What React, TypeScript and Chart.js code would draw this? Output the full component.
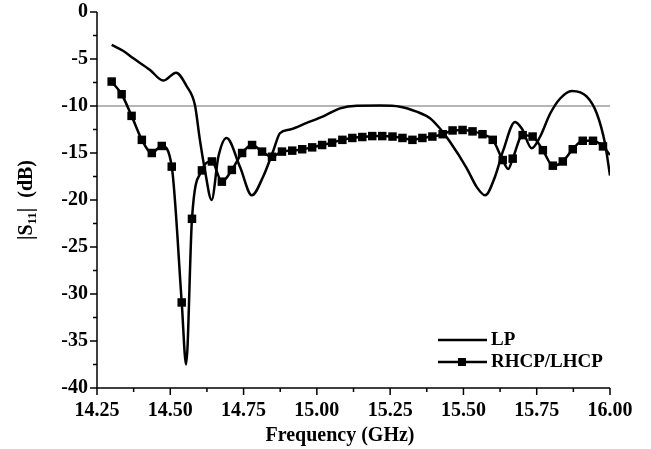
import React, { useEffect, useRef } from "react";
import { Chart, registerables } from "chart.js";
Chart.register(...registerables);

// LP curve (frequency in GHz, |S11| in dB)
const lpFreq = [
  14.3, 14.34, 14.374, 14.431, 14.476, 14.52, 14.556, 14.584, 14.601, 14.618, 14.641,
  14.664, 14.692, 14.738, 14.778, 14.817, 14.852, 14.874, 14.909, 14.965, 15.022,
  15.079, 15.136, 15.216, 15.284, 15.34, 15.386, 15.42, 15.454, 15.511, 15.545,
  15.574, 15.608, 15.636, 15.676, 15.699, 15.733, 15.761, 15.796, 15.83, 15.87,
  15.921, 15.955, 15.983, 16.0,
];
const lpS11 = [
  -3.5, -4.15, -4.93, -6.17, -7.3, -6.45, -7.9, -9.9, -13.6, -16.8, -20.0,
  -15.4, -13.4, -16.5, -19.5, -17.5, -14.7, -12.9, -12.5, -11.8, -11.1,
  -10.25, -9.97, -9.95, -10.07, -10.6, -11.3, -12.4, -13.8, -16.6, -18.6,
  -19.5, -17.5, -14.7, -11.7, -12.4, -14.5, -13.3, -10.8, -9.2, -8.4,
  -9.0, -10.8, -14.0, -17.4,
];

// RHCP/LHCP curve: points carrying square markers
const rhcpFreq = [
  14.3, 14.334, 14.368, 14.403, 14.437, 14.471, 14.505, 14.539, 14.574, 14.608,
  14.642, 14.676, 14.71, 14.745, 14.779, 14.813, 14.847, 14.881, 14.916, 14.95,
  14.984, 15.018, 15.052, 15.087, 15.121, 15.155, 15.189, 15.223, 15.258, 15.292,
  15.326, 15.36, 15.394, 15.429, 15.463, 15.497, 15.531, 15.565, 15.6, 15.634,
  15.668, 15.702, 15.736, 15.771, 15.805, 15.839, 15.873, 15.907, 15.942, 15.976,
];
const rhcpS11 = [
  -7.4, -8.75, -11.05, -13.6, -15.0, -14.25, -16.45, -30.9, -22.0, -16.85,
  -15.9, -18.05, -16.8, -15.0, -14.15, -14.85, -15.4, -14.85, -14.75, -14.6,
  -14.4, -14.15, -13.9, -13.6, -13.4, -13.3, -13.2, -13.2, -13.25, -13.4,
  -13.6, -13.4, -13.25, -13.0, -12.6, -12.55, -12.7, -13.0, -13.6, -15.75,
  -15.6, -13.1, -13.25, -14.7, -16.35, -15.9, -14.6, -13.7, -13.7, -14.3,
];
// RHCP/LHCP curve: line points without markers
const rhcpExtraFreq = [14.554, 15.653, 16.0];
const rhcpExtraS11 = [-37.5, -16.7, -15.2];

// -10 dB reference line
const refFreq = [14.25, 16.0];
const refS11 = [-10, -10];

const xTicksMajor = [14.25, 14.5, 14.75, 15.0, 15.25, 15.5, 15.75, 16.0];
const yTicksMajor = [0, -5, -10, -15, -20, -25, -30, -35, -40];

const seriesNames = ["LP", "RHCP/LHCP"];

const FONT = "'Liberation Serif', 'Times New Roman', serif";

export default function App() {
  const ref = useRef<HTMLCanvasElement | null>(null);

  useEffect(() => {
    const canvas = ref.current;
    if (!canvas) return;

    const lpData = lpFreq.map((x, i) => ({ x, y: lpS11[i] }));
    const rh = rhcpFreq
      .map((x, i) => ({ x, y: rhcpS11[i], m: true }))
      .concat(rhcpExtraFreq.map((x, i) => ({ x, y: rhcpExtraS11[i], m: false })))
      .sort((a, b) => a.x - b.x);
    const rhData = rh.map((p) => ({ x: p.x, y: p.y }));
    const rhRadius = rh.map((p) => (p.m ? 6 : 0));
    const refData = refFreq.map((x, i) => ({ x, y: refS11[i] }));

    const decor = {
      id: "decor",
      afterDraw(chart: any) {
        const ctx = chart.ctx;
        const xs = chart.scales.x;
        const ys = chart.scales.y;
        const area = chart.chartArea;
        ctx.save();
        ctx.strokeStyle = "#000";
        ctx.lineWidth = 1.5;
        // axis lines
        ctx.beginPath();
        ctx.moveTo(area.left, area.top);
        ctx.lineTo(area.left, area.bottom);
        ctx.lineTo(area.right, area.bottom);
        ctx.stroke();
        // x ticks
        ctx.beginPath();
        for (let i = 0; i < xTicksMajor.length; i++) {
          const v = xTicksMajor[i];
          const px = xs.getPixelForValue(v);
          ctx.moveTo(px, area.bottom);
          ctx.lineTo(px, area.bottom + 7);
          if (i < xTicksMajor.length - 1) {
            const mv = (v + xTicksMajor[i + 1]) / 2;
            const mp = xs.getPixelForValue(mv);
            ctx.moveTo(mp, area.bottom);
            ctx.lineTo(mp, area.bottom + 4);
          }
        }
        // y ticks
        for (let i = 0; i < yTicksMajor.length; i++) {
          const v = yTicksMajor[i];
          const py = ys.getPixelForValue(v);
          ctx.moveTo(area.left, py);
          ctx.lineTo(area.left - 7, py);
          if (i < yTicksMajor.length - 1) {
            const mv = (v + yTicksMajor[i + 1]) / 2;
            const mp = ys.getPixelForValue(mv);
            ctx.moveTo(area.left, mp);
            ctx.lineTo(area.left - 4, mp);
          }
        }
        ctx.stroke();

        // x axis title
        ctx.fillStyle = "#000";
        ctx.font = `bold 20px ${FONT}`;
        ctx.textAlign = "center";
        ctx.textBaseline = "middle";
        ctx.fillText("Frequency (GHz)", 340, 436);

        // y axis title with subscript
        ctx.save();
        ctx.translate(27, (area.top + area.bottom) / 2);
        ctx.rotate(-Math.PI / 2);
        ctx.textAlign = "left";
        ctx.textBaseline = "middle";
        const big = `bold 20px ${FONT}`;
        const small = `bold 13px ${FONT}`;
        ctx.font = big;
        const w1 = ctx.measureText("|S").width;
        const w3 = ctx.measureText("|  (dB)").width;
        ctx.font = small;
        const w2 = ctx.measureText("11").width;
        const total = w1 + w2 + w3;
        let cx = -total / 2;
        ctx.font = big;
        ctx.fillText("|S", cx, 0);
        cx += w1;
        ctx.font = small;
        ctx.fillText("11", cx, 6);
        cx += w2;
        ctx.font = big;
        ctx.fillText("|  (dB)", cx, 0);
        ctx.restore();

        // legend
        ctx.font = `bold 19px ${FONT}`;
        ctx.textAlign = "left";
        ctx.textBaseline = "middle";
        ctx.lineWidth = 2.5;
        ctx.beginPath();
        ctx.moveTo(438, 340);
        ctx.lineTo(487, 340);
        ctx.stroke();
        ctx.fillText(seriesNames[0], 491, 340);
        ctx.beginPath();
        ctx.moveTo(438, 362);
        ctx.lineTo(487, 362);
        ctx.stroke();
        ctx.fillRect(462 - 4, 362 - 4, 8, 8);
        ctx.fillText(seriesNames[1], 491, 362);
        ctx.restore();
      },
    };

    const chart = new Chart(canvas, {
      type: "line",
      data: {
        datasets: [
          {
            label: "-10 dB",
            data: refData,
            borderColor: "#b5b5b5",
            borderWidth: 2,
            pointRadius: 0,
            order: 3,
          },
          {
            label: seriesNames[0],
            data: lpData,
            borderColor: "#000",
            borderWidth: 2.5,
            pointRadius: 0,
            cubicInterpolationMode: "monotone",
            order: 1,
          },
          {
            label: seriesNames[1],
            data: rhData,
            borderColor: "#000",
            backgroundColor: "#000",
            borderWidth: 2.5,
            pointStyle: "rect",
            pointRadius: rhRadius,
            pointBorderWidth: 0,
            cubicInterpolationMode: "monotone",
            order: 2,
          },
        ],
      },
      options: {
        animation: false,
        responsive: false,
        devicePixelRatio: 1,
        layout: { padding: { left: 0, top: 12, right: 41, bottom: 0 } },
        plugins: {
          legend: { display: false },
          tooltip: { enabled: false },
        },
        scales: {
          x: {
            type: "linear",
            min: 14.25,
            max: 16.0,
            grid: { display: false, drawTicks: false },
            border: { display: false },
            ticks: {
              stepSize: 0.25,
              padding: 11,
              color: "#000",
              font: { family: FONT, size: 20, weight: "bold" },
              maxRotation: 0,
              callback: (v: any) => Number(v).toFixed(2),
            },
            afterFit: (s: any) => {
              s.height = 61;
            },
          },
          y: {
            type: "linear",
            min: -40,
            max: 0,
            grid: {
              display: true,
              drawOnChartArea: false,
              drawTicks: true,
              tickLength: 9,
              tickColor: "rgba(0,0,0,0)",
              color: "rgba(0,0,0,0)",
            },
            border: { display: false },
            ticks: {
              stepSize: 5,
              padding: 0,
              color: "#000",
              font: { family: FONT, size: 20, weight: "bold" },
            },
            afterFit: (s: any) => {
              s.width = 97;
            },
          },
        },
      },
      plugins: [decor],
    } as any);

    return () => chart.destroy();
  }, []);

  return (
    <div style={{ position: "absolute", left: 0, top: 0, width: 651, height: 449, background: "#fff" }}>
      <canvas ref={ref} width={651} height={449} style={{ display: "block" }} />
    </div>
  );
}
